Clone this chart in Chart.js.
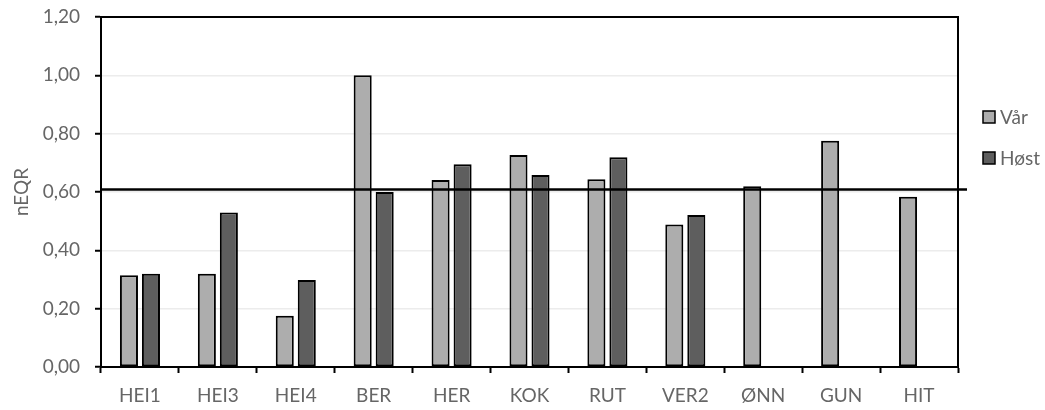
<!DOCTYPE html>
<html>
<head>
<meta charset="utf-8">
<script src="https://cdn.jsdelivr.net/npm/chart.js@4.4.1/dist/chart.umd.min.js"></script>
<style>
  html, body { margin: 0; padding: 0; background: #fff; }
  #wrap { width: 1045px; height: 410px; position: relative; }
</style>
</head>
<body>
<div id="wrap"><canvas id="myChart" width="1045" height="410"></canvas></div>
<script>
// data
const categories = ['HEI1', 'HEI3', 'HEI4', 'BER', 'HER', 'KOK', 'RUT', 'VER2', 'ØNN', 'GUN', 'HIT'];
const varValues  = [0.315, 0.32, 0.176, 1.00, 0.641, 0.727, 0.644, 0.489, 0.62, 0.776, 0.584];
const hostValues = [0.32, 0.53, 0.298, 0.60, 0.695, 0.658, 0.719, 0.521, null, null, null];
const yTicks = [0, 0.2, 0.4, 0.6, 0.8, 1.0, 1.2];
const threshold = 0.609;

const textColor = '#666666';
const fontFamily = 'Lato, "Open Sans", sans-serif';

// frame + threshold line + legend
const extras = {
  id: 'extras',
  afterDatasetsDraw(chart) {
    const ctx = chart.ctx;
    const a = chart.chartArea;
    const y = chart.scales.y.getPixelForValue(threshold);
    ctx.save();
    ctx.strokeStyle = '#000';
    ctx.lineWidth = 2;
    ctx.beginPath();
    ctx.moveTo(a.left, a.top);
    ctx.lineTo(a.right, a.top);
    ctx.lineTo(a.right, a.bottom);
    ctx.stroke();

    ctx.lineWidth = 2.5;
    ctx.beginPath();
    ctx.moveTo(a.left, y);
    ctx.lineTo(a.right + 9, y);
    ctx.stroke();

    // legend
    ctx.font = '19px ' + fontFamily;
    ctx.textBaseline = 'middle';
    ctx.textAlign = 'left';
    chart.data.datasets.forEach((ds, i) => {
      const bx = 983, by = 111 + i * 41;
      ctx.fillStyle = ds.backgroundColor;
      ctx.fillRect(bx, by, 12, 12);
      ctx.lineWidth = 1.5;
      ctx.strokeStyle = '#000';
      ctx.strokeRect(bx, by, 12, 12);
      ctx.fillStyle = textColor;
      ctx.fillText(ds.label, bx + 17, by + 7);
    });
    ctx.restore();
  }
};

const ctx = document.getElementById('myChart').getContext('2d');
const myChart = new Chart(ctx, {
  type: 'bar',
  data: {
    labels: categories,
    datasets: [
      {
        label: 'Vår',
        data: varValues,
        backgroundColor: '#adadad',
        borderColor: '#000',
        borderWidth: 2,
        borderSkipped: false,
        categoryPercentage: 0.565,
        barPercentage: 0.82
      },
      {
        label: 'Høst',
        data: hostValues,
        backgroundColor: '#5e5e5e',
        borderColor: '#000',
        borderWidth: 2,
        borderSkipped: false,
        categoryPercentage: 0.565,
        barPercentage: 0.82
      }
    ]
  },
  options: {
    responsive: false,
    animation: false,
    events: [],
    layout: { padding: { left: 0, top: 17, right: 87, bottom: 0 } },
    plugins: {
      legend: { display: false },
      tooltip: { enabled: false }
    },
    scales: {
      x: {
        grid: {
          offset: true,
          drawOnChartArea: false,
          tickLength: 6,
          tickColor: '#000',
          tickWidth: 2
        },
        border: { color: '#000', width: 2 },
        ticks: {
          color: textColor,
          font: { family: fontFamily, size: 19 },
          padding: 11,
          maxRotation: 0
        },
        afterFit(scale) {
          scale.height = 43;
          scale.paddingLeft = 0;
          scale.paddingRight = 0;
        }
      },
      y: {
        min: 0,
        max: 1.2,
        afterBuildTicks(scale) {
          scale.ticks = yTicks.map(v => ({ value: v }));
        },
        grid: {
          color: '#ececec',
          lineWidth: 1.5,
          tickLength: 6,
          tickColor: '#000',
          tickWidth: 2
        },
        border: { color: '#000', width: 2 },
        ticks: {
          color: textColor,
          font: { family: fontFamily, size: 19 },
          padding: 15,
          callback: v => v.toFixed(2).replace('.', ',')
        },
        title: {
          display: true,
          text: 'nEQR',
          color: textColor,
          font: { family: fontFamily, size: 19 },
          padding: { top: 10, bottom: 0 }
        },
        afterFit(scale) {
          scale.width = 101;
          scale.paddingTop = 0;
          scale.paddingBottom = 0;
        }
      }
    }
  },
  plugins: [extras]
});
</script>
</body>
</html>
